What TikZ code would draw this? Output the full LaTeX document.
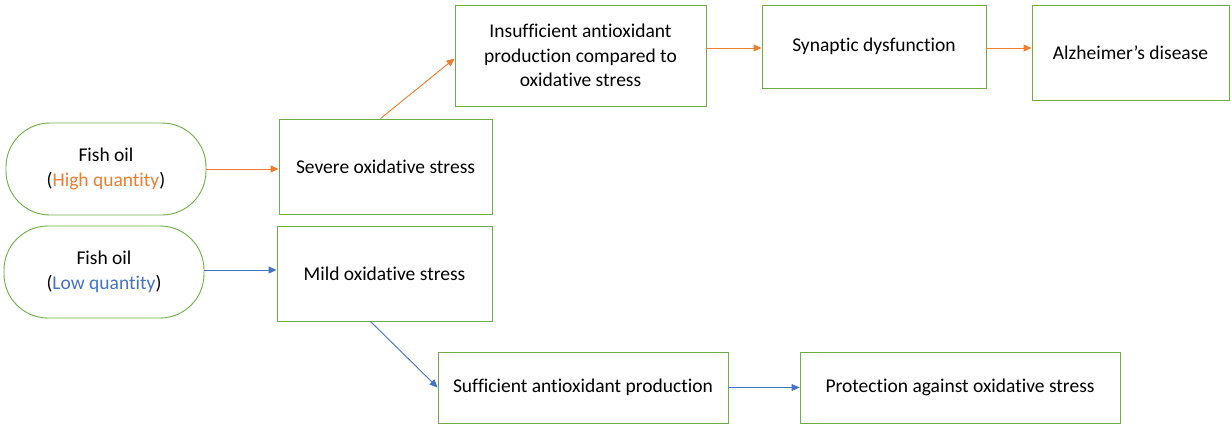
\documentclass[tikz,border=0pt]{standalone}
\usepackage{fontspec}
\setmainfont[Ligatures={NoCommon}]{Carlito}
\usetikzlibrary{arrows.meta,calc}
\definecolor{boxgreen}{HTML}{70AD47}
\definecolor{arrorange}{HTML}{ED7D31}
\definecolor{arrblue}{HTML}{4472C4}
\begin{document}
\begin{tikzpicture}[x=1pt,y=-1pt,
  box/.style={draw=boxgreen,line width=0.9pt,rectangle,align=center,inner sep=2pt,
    font=\fontsize{19.5}{24.5}\selectfont},
  pill/.style={box,rounded corners=44pt},
  oarr/.style={draw=arrorange,line width=0.9pt,-{Triangle[length=8pt,width=7pt]}},
  barr/.style={draw=arrblue,line width=0.9pt,-{Triangle[length=8pt,width=7pt]}}]
\useasboundingbox (0,0) rectangle (1231,428);
\node[pill,minimum width=200pt,minimum height=92pt] (fhigh) at (106,169) {Fish oil\\(\textcolor{arrorange}{High quantity})};
\node[pill,minimum width=200pt,minimum height=92pt] (flow) at (104,272) {Fish oil\\(\textcolor{arrblue}{Low quantity})};
\node[box,minimum width=213pt,minimum height=95pt] (severe) at (385.5,166.5) {Severe oxidative stress};
\node[box,minimum width=215pt,minimum height=95pt] (mild) at (384.5,273.5) {Mild oxidative stress};
\node[box,minimum width=251pt,minimum height=101pt] (insuf) at (580.5,55.5) {Insufficient antioxidant\\production compared to\\oxidative stress};
\node[box,minimum width=224pt,minimum height=83pt] (syn) at (874,46.5) {Synaptic dysfunction};
\node[box,minimum width=197pt,minimum height=95pt] (alz) at (1130.5,52.5) {Alzheimer’s disease};
\node[box,minimum width=290pt,minimum height=71pt] (suf) at (583,387.5) {Sufficient antioxidant production};
\node[box,minimum width=320pt,minimum height=71pt] (prot) at (960,387.5) {Protection against oxidative stress};
\draw[oarr] (fhigh.east) -- (fhigh.east -| severe.west);
\draw[oarr] ([xshift=-5pt]severe.north) -- ([yshift=-3pt]insuf.west);
\draw[oarr] (insuf.east |- 0,48) -- (syn.west |- 0,48);
\draw[oarr] (syn.east |- 0,48) -- (alz.west |- 0,48);
\draw[barr] (flow.east |- 0,270) -- (mild.west |- 0,270);
\draw[barr] ([xshift=-14pt]mild.south) -- (suf.west);
\draw[barr] (suf.east) -- (prot.west);
\end{tikzpicture}
\end{document}
